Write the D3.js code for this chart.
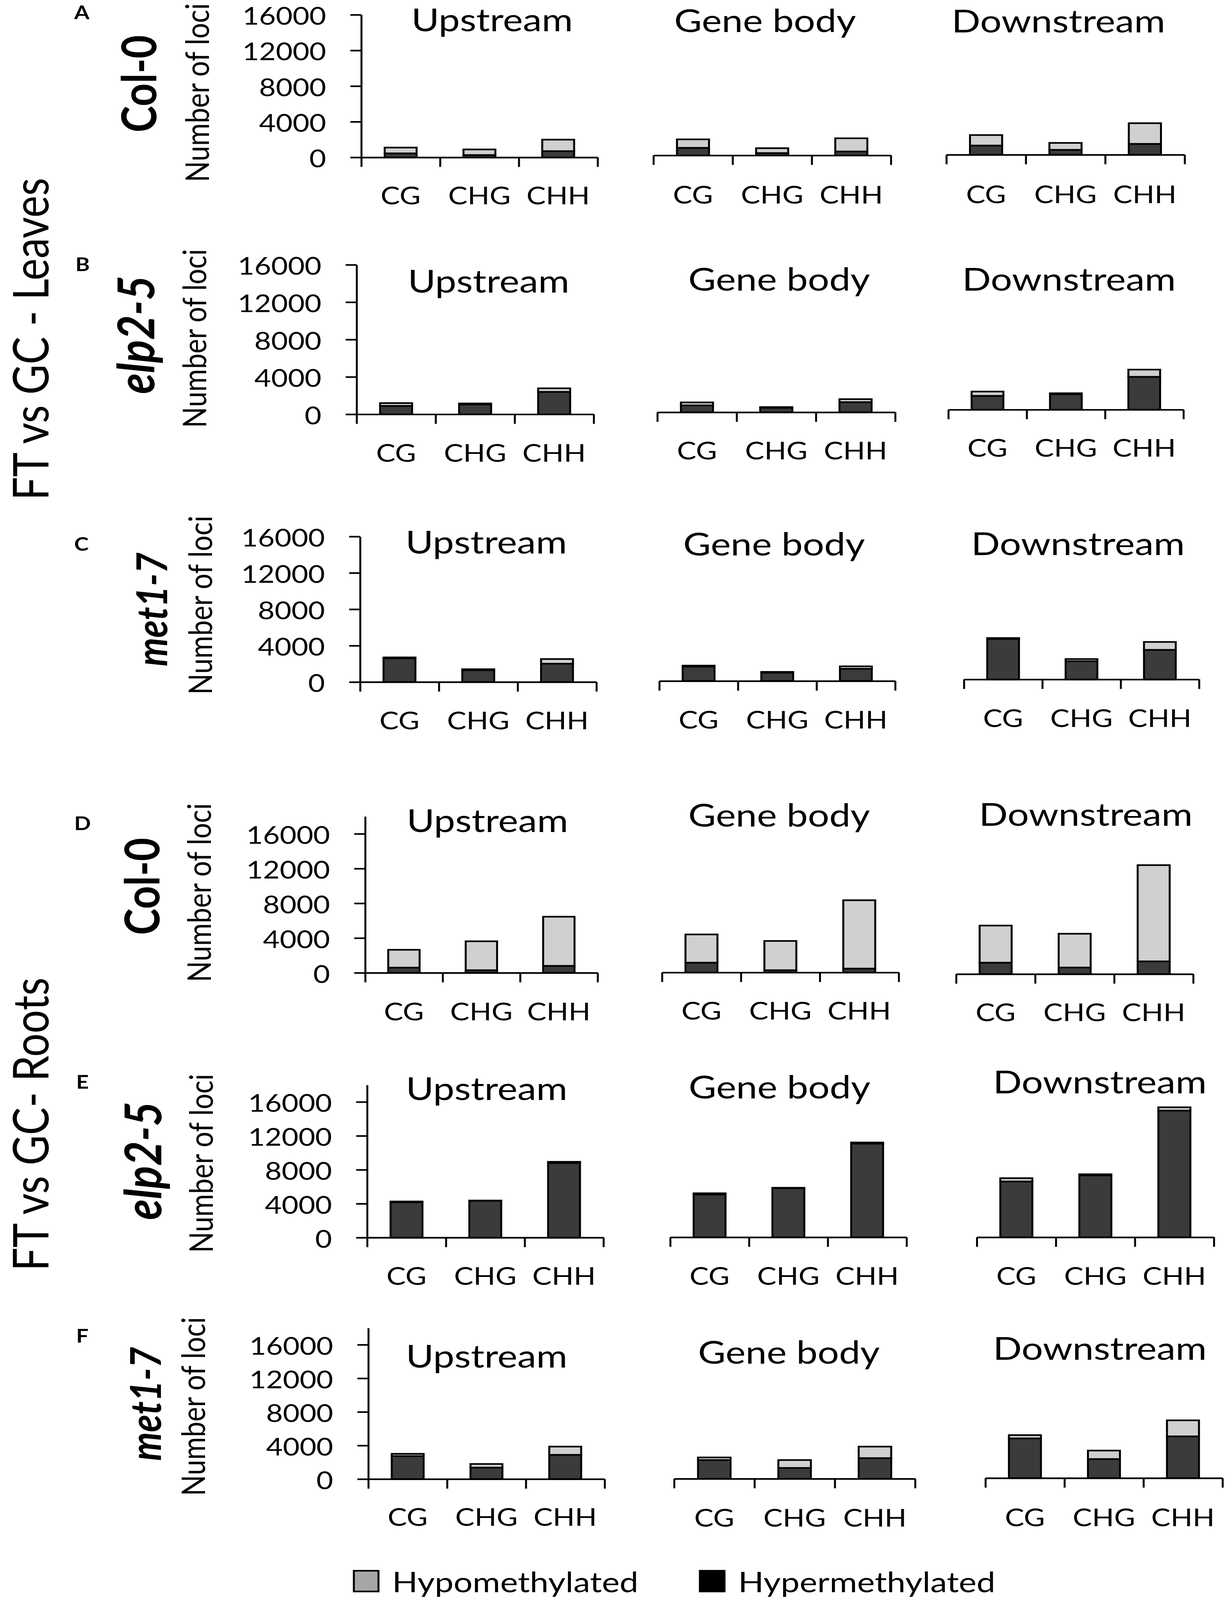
<!DOCTYPE html>
<html>
<head>
<meta charset="utf-8">
<script src="https://cdn.jsdelivr.net/npm/d3@7"></script>
<style>
  body { margin: 0; background: #fff; overflow: hidden; }
  svg { display: block; font-family: Lato, "Open Sans", sans-serif; }
</style>
</head>
<body>
<div id="chart"></div>
<script>
// categories and labels
var contexts = ["CG", "CHG", "CHH"];
var regions = ["Upstream", "Gene body", "Downstream"];
var panelLetters = ["A", "B", "C", "D", "E", "F"];
var genotypes = ["Col-0", "elp2-5", "met1-7", "Col-0", "elp2-5", "met1-7"];
var tissues = ["FT vs GC - Leaves", "FT vs GC- Roots"];
var yTicks = [0, 4000, 8000, 12000, 16000];
var yMax = [16000, 16000, 16000, 18000, 18000, 18000];

// hypermethylated loci [panel][region][context]
var hyper = [
  [[450, 260, 700], [850, 260, 440], [1030, 550, 1220]],
  [[900, 1060, 2400], [740, 480, 1090], [1480, 1660, 3520]],
  [[2610, 1310, 2020], [1600, 920, 1350], [4450, 2000, 3250]],
  [[600, 300, 800], [1130, 260, 450], [1320, 760, 1470]],
  [[4160, 4340, 8800], [5040, 5800, 11050], [6580, 7300, 14940]],
  [[2740, 1370, 2890], [2230, 1290, 2460], [4730, 2270, 4970]]
];
// hypomethylated loci [panel][region][context]
var hypo = [
  [[650, 630, 1290], [950, 550, 1480], [1180, 780, 2320]],
  [[300, 100, 380], [320, 80, 320], [460, 100, 770]],
  [[100, 100, 510], [100, 90, 270], [100, 240, 870]],
  [[2050, 3330, 5660], [3250, 3370, 7870], [4270, 3890, 11080]],
  [[100, 30, 140], [150, 40, 130], [390, 130, 390]],
  [[270, 430, 980], [310, 940, 1370], [390, 1010, 1910]]
];

var legendItems = [
  {name: "Hypomethylated", color: "#a6a6a6"},
  {name: "Hypermethylated", color: "#000000"}
];

// page layout (pixels) for each panel row, the small charts were pasted separately
var rows = [
  {axisX: 925, y0: 479, h16: 434, letter: [190, 58], geno: [400, 255], ylab: [535, 282],
   plots: [{x0: 925, x1: 1530, base: 479, tx: 1260, ty: 95, ly: 622},
           {x0: 1673, x1: 2281, base: 473, tx: 1959, ty: 97, ly: 620},
           {x0: 2423, x1: 3033, base: 471, tx: 2710, ty: 99, ly: 618}]},
  {axisX: 913, y0: 1261, h16: 455, letter: [193, 825], geno: [395, 1019], ylab: [528, 1030],
   plots: [{x0: 913, x1: 1520, base: 1261, tx: 1251, ty: 890, ly: 1405},
           {x0: 1683, x1: 2292, base: 1255, tx: 1995, ty: 885, ly: 1398},
           {x0: 2428, x1: 3030, base: 1247, tx: 2737, ty: 885, ly: 1390}]},
  {axisX: 922, y0: 2076, h16: 443, letter: [190, 1676], geno: [428, 1855], ylab: [543, 1842],
   plots: [{x0: 922, x1: 1527, base: 2076, tx: 1245, ty: 1685, ly: 2220},
           {x0: 1688, x1: 2292, base: 2073, tx: 1982, ty: 1691, ly: 2218},
           {x0: 2468, x1: 3070, base: 2068, tx: 2760, ty: 1690, ly: 2213}]},
  {axisX: 935, y0: 2961, h16: 423, letter: [190, 2526], geno: [408, 2698], ylab: [540, 2717],
   plots: [{x0: 935, x1: 1530, base: 2961, tx: 1248, ty: 2533, ly: 3105},
           {x0: 1695, x1: 2301, base: 2960, tx: 1995, ty: 2516, ly: 3103},
           {x0: 2448, x1: 3055, base: 2965, tx: 2780, ty: 2513, ly: 3108}]},
  {axisX: 940, y0: 3767, h16: 413, letter: [195, 3314], geno: [413, 3533], ylab: [545, 3541],
   plots: [{x0: 940, x1: 1545, base: 3767, tx: 1246, ty: 3348, ly: 3911},
           {x0: 1716, x1: 2321, base: 3766, tx: 1996, ty: 3343, ly: 3911},
           {x0: 2501, x1: 3108, base: 3766, tx: 2816, ty: 3328, ly: 3911}]},
  {axisX: 943, y0: 4502, h16: 409, letter: [195, 4086], geno: [412, 4273], ylab: [525, 4281],
   plots: [{x0: 943, x1: 1548, base: 4502, tx: 1246, ty: 4163, ly: 4644},
           {x0: 1726, x1: 2343, base: 4501, tx: 2020, ty: 4151, ly: 4646},
           {x0: 2523, x1: 3130, base: 4499, tx: 2816, ty: 4139, ly: 4645}]}
];

var width = 3139, height = 4870;
var darkFill = "#3b3b3b", lightFill = "#d0d0d0";
var stroke = 5;
var genoSize = {"Col-0": 122, "elp2-5": 130, "met1-7": 110};

// the window can be shorter than the figure, so the drawing is fitted to it
var viewW = window.innerWidth || width;
var viewH = Math.min(window.innerHeight || height, height);

var svg = d3.select("#chart").append("svg")
  .attr("width", viewW)
  .attr("height", viewH)
  .attr("viewBox", "0 0 " + width + " " + height)
  .attr("preserveAspectRatio", "none");

svg.append("rect").attr("width", width).attr("height", height).attr("fill", "#fff");

// tissue labels on the far left
var tissueY = [1032, 3422];
tissues.forEach(function(t, i) {
  svg.append("text")
    .attr("transform", "translate(124," + tissueY[i] + ") rotate(-90)")
    .attr("text-anchor", "middle")
    .style("font-size", "126px")
    .text(t);
});

var stack = d3.stack().keys(["hyper", "hypo"]);

rows.forEach(function(row, p) {
  var g = svg.append("g").attr("class", "panel-" + panelLetters[p]);
  var italic = genotypes[p] != "Col-0";

  g.append("text")
    .attr("x", row.letter[0])
    .attr("y", row.letter[1])
    .style("font-size", "56px")
    .style("font-weight", "bold")
    .text(panelLetters[p]);

  g.append("text")
    .attr("transform", "translate(" + row.geno[0] + "," + row.geno[1] + ") rotate(-90)")
    .attr("text-anchor", "middle")
    .style("font-size", genoSize[genotypes[p]] + "px")
    .style("font-weight", "bold")
    .style("font-style", italic ? "italic" : "normal")
    .text(genotypes[p]);

  g.append("text")
    .attr("transform", "translate(" + row.ylab[0] + "," + row.ylab[1] + ") rotate(-90)")
    .attr("text-anchor", "middle")
    .style("font-size", "84px")
    .text("Number of loci");

  // y axis, only drawn on the upstream chart
  var yAxisScale = d3.scaleLinear()
    .domain([0, yMax[p]])
    .range([row.y0, row.y0 - row.h16 * yMax[p] / 16000]);

  var yAxis = g.append("g")
    .attr("transform", "translate(" + row.axisX + ",0)")
    .call(d3.axisLeft(yAxisScale)
      .tickValues(yTicks)
      .tickFormat(d3.format("d"))
      .tickSize(28)
      .tickSizeOuter(0)
      .tickPadding(62));
  yAxis.selectAll("path, line").attr("stroke", "#000").attr("stroke-width", stroke);
  yAxis.selectAll("text")
    .attr("fill", "#000")
    .attr("dy", "0.4em")
    .style("font-family", "Lato, sans-serif")
    .style("font-size", "74px");

  row.plots.forEach(function(pl, r) {
    var y = d3.scaleLinear()
      .domain([0, 16000])
      .range([pl.base, pl.base - row.h16]);

    var x = d3.scaleBand()
      .domain(contexts)
      .range([pl.x0, pl.x1])
      .padding(0);

    var barW = x.bandwidth() * 0.405;

    var data = contexts.map(function(c, k) {
      return {context: c, hyper: hyper[p][r][k], hypo: hypo[p][r][k]};
    });
    var series = stack(data);

    g.append("g")
      .selectAll("g")
      .data(series)
      .enter().append("g")
        .attr("fill", function(s) { return s.key == "hyper" ? darkFill : lightFill; })
      .selectAll("rect")
      .data(function(s) { return s; })
      .enter().append("rect")
        .attr("x", function(d) { return x(d.data.context) + (x.bandwidth() - barW) / 2; })
        .attr("y", function(d) { return y(d[1]); })
        .attr("width", barW)
        .attr("height", function(d) { return y(d[0]) - y(d[1]); })
        .attr("stroke", "#000")
        .attr("stroke-width", stroke);

    // category axis, tick marks between categories
    var xb = d3.scaleLinear().domain([0, contexts.length]).range([pl.x0, pl.x1]);
    var xAxis = g.append("g")
      .attr("transform", "translate(0," + pl.base + ")")
      .call(d3.axisBottom(xb)
        .tickValues(d3.range(contexts.length + 1))
        .tickFormat("")
        .tickSize(29)
        .tickSizeOuter(0));
    xAxis.selectAll("path, line").attr("stroke", "#000").attr("stroke-width", stroke);

    g.append("g")
      .selectAll("text")
      .data(contexts)
      .enter().append("text")
        .attr("x", function(c) { return x(c) + x.bandwidth() / 2; })
        .attr("y", pl.ly)
        .attr("text-anchor", "middle")
        .style("font-size", "74px")
        .text(function(c) { return c; });

    g.append("text")
      .attr("x", pl.tx)
      .attr("y", pl.ty)
      .attr("text-anchor", "middle")
      .style("font-size", "97px")
      .text(regions[r]);
  });
});

// legend
var legendX = [906, 1792];
var legend = svg.append("g").attr("class", "legend");
legendItems.forEach(function(d, i) {
  legend.append("rect")
    .attr("x", legendX[i])
    .attr("y", 4781)
    .attr("width", 63)
    .attr("height", 63)
    .attr("fill", d.color)
    .attr("stroke", "#000")
    .attr("stroke-width", stroke);
  legend.append("text")
    .attr("x", legendX[i] + 98)
    .attr("y", 4846)
    .style("font-size", "86px")
    .text(d.name);
});
</script>
</body>
</html>
